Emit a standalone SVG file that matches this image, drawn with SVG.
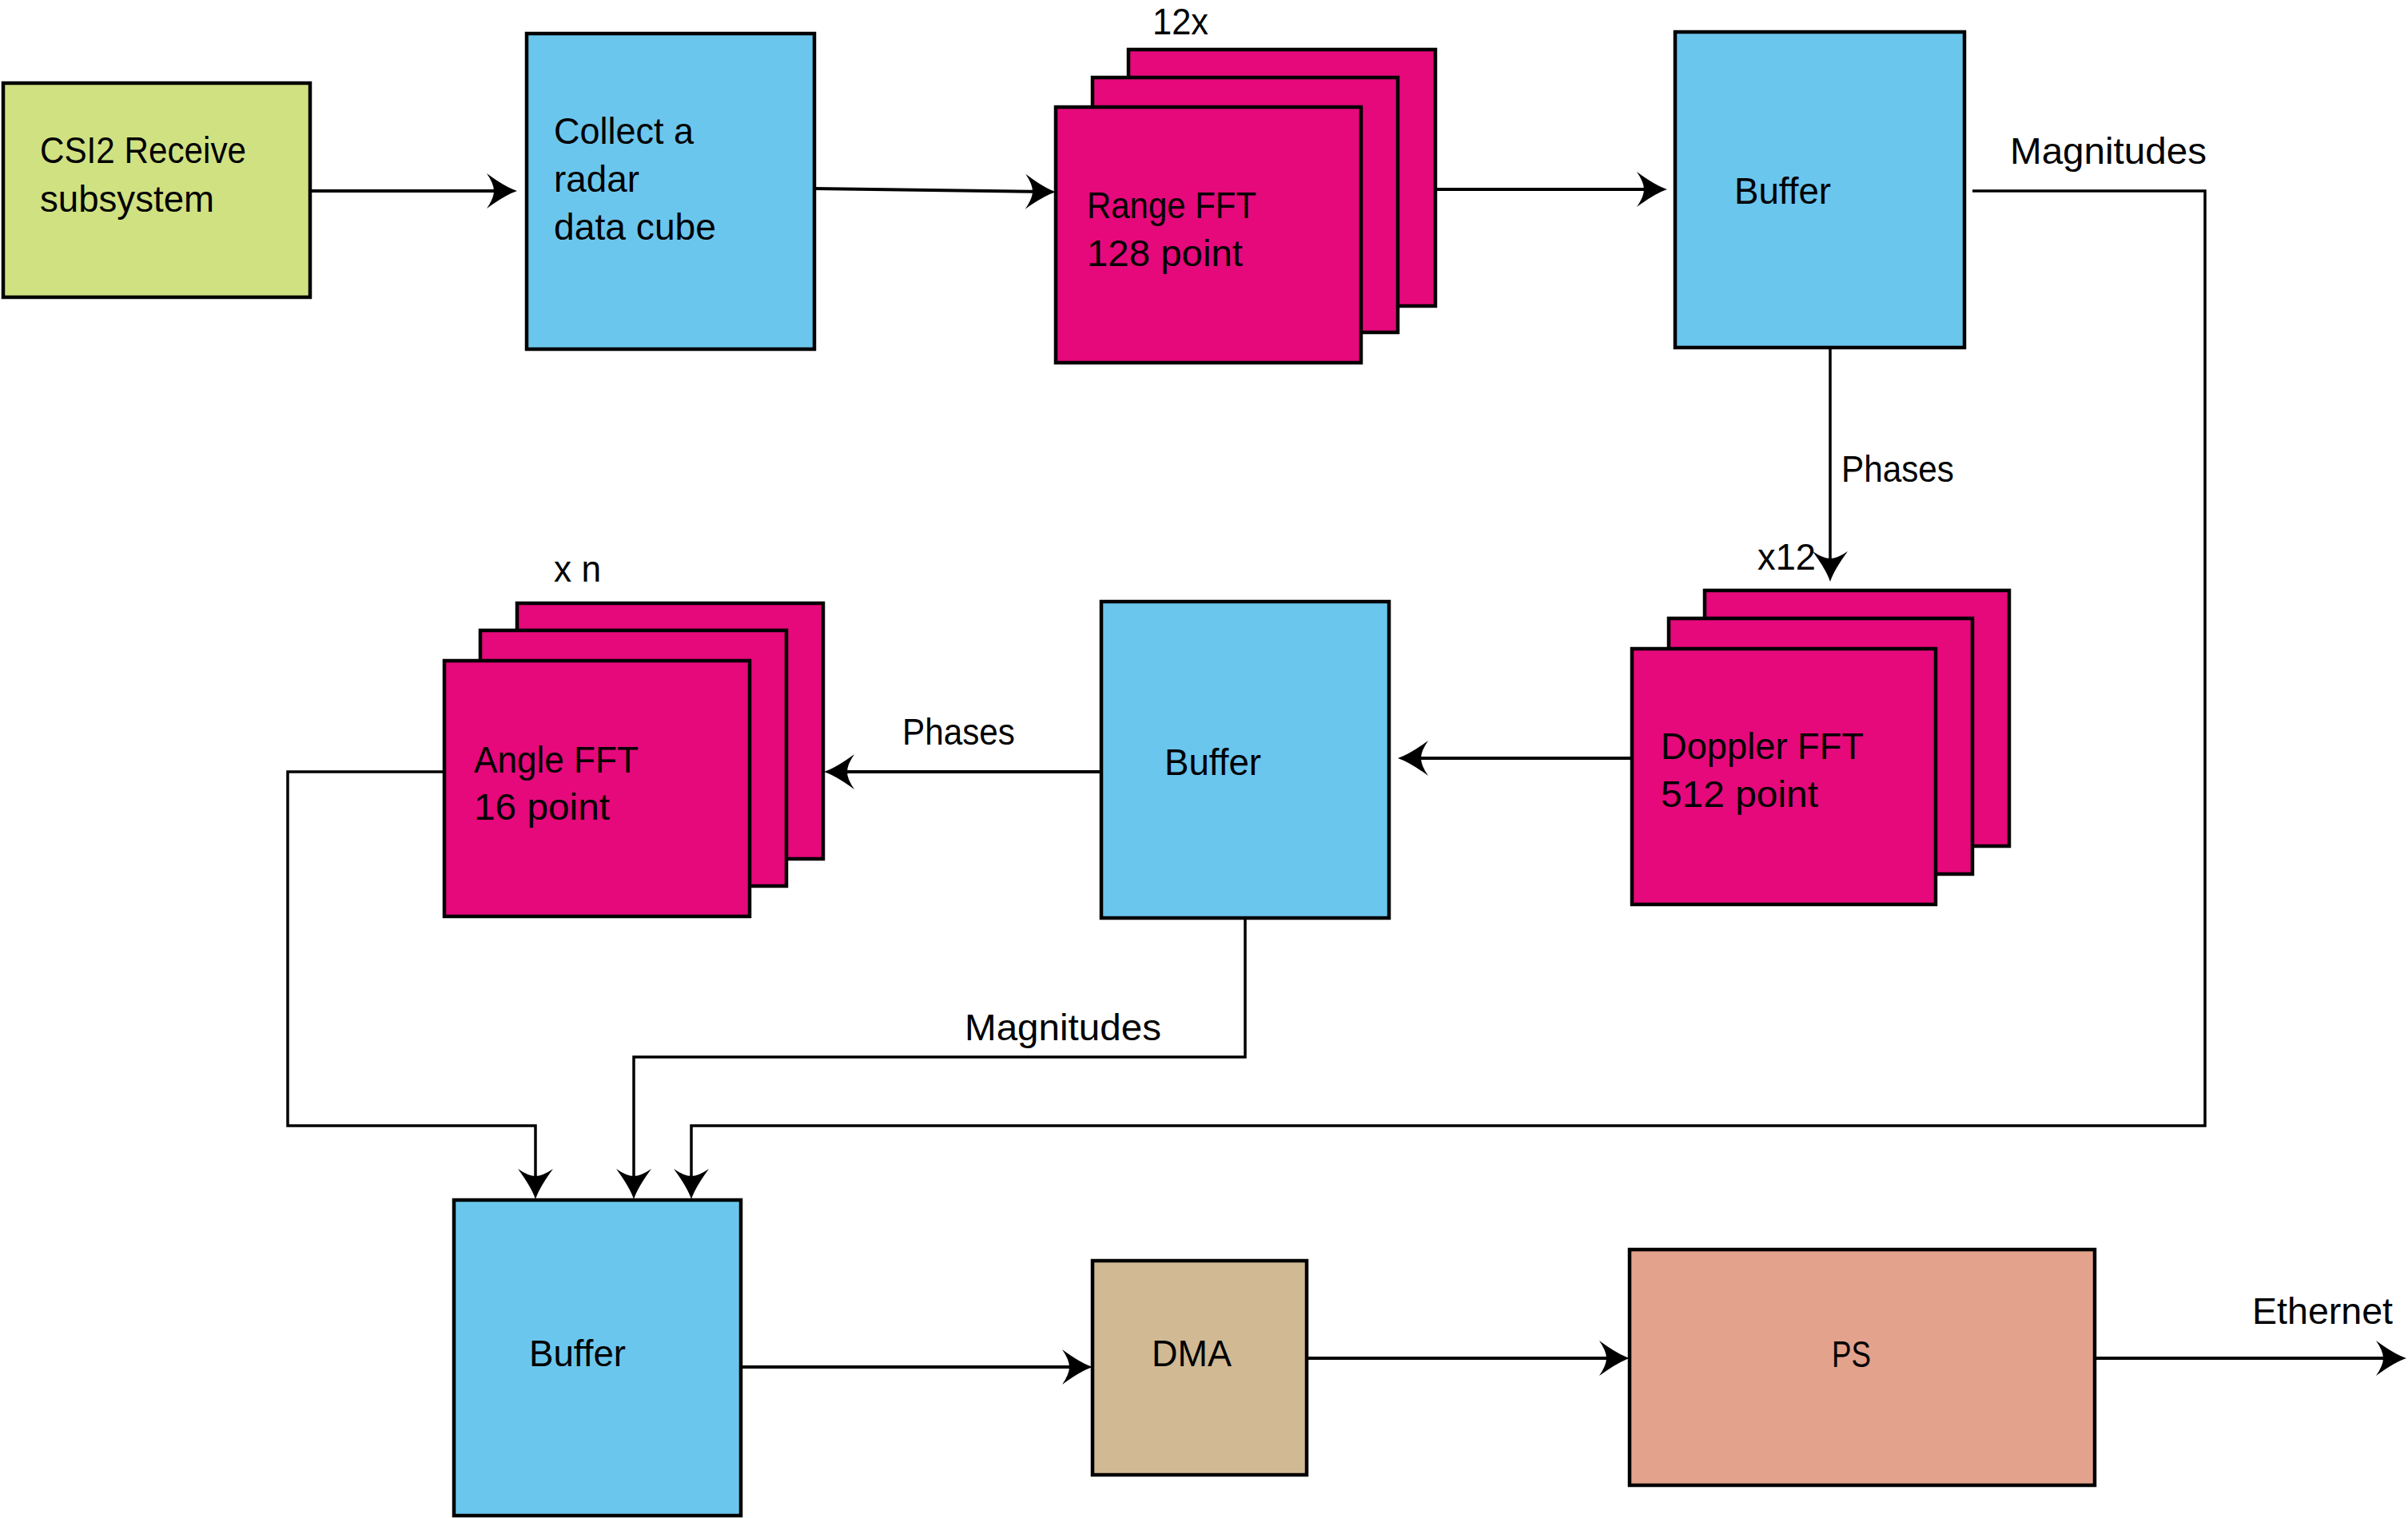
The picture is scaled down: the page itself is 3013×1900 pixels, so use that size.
<svg xmlns="http://www.w3.org/2000/svg" width="3013" height="1900" viewBox="0 0 3013 1900">
<style>
.box{stroke:#000;stroke-width:4.5}
.green{fill:#d0e182}
.blue{fill:#6bc6ed}
.pink{fill:#e5097b}
.tan{fill:#d1b994}
.salmon{fill:#e2a28c}
.t{font-family:"Liberation Sans",Arial,sans-serif;font-size:47px;fill:#000}
.c{fill:none;stroke:#000;stroke-width:4;stroke-linejoin:miter}
.c2{fill:none;stroke:#000;stroke-width:3.5;stroke-linejoin:miter}
</style>
<defs>
<marker id="arr" markerUnits="userSpaceOnUse" viewBox="-42 -24 44 48" markerWidth="44" markerHeight="48" refX="-12" refY="0" orient="auto">
<path d="M0,0 Q-15,-5 -38,-22 Q-29,-9 -29,0 Q-29,9 -38,22 Q-15,5 0,0 Z" fill="#000"/>
</marker>
</defs>
<rect width="3013" height="1900" fill="#fff"/>
<g id="connectors">
<path class="c" d="M388,239 L635,239" marker-end="url(#arr)"/>
<path class="c" d="M1019,236 L1309,240" marker-end="url(#arr)"/>
<path class="c" d="M1796,237 L2074,237" marker-end="url(#arr)"/>
<path class="c2" d="M2468,239 L2759,239 L2759,1409 L865,1409 L865,1489" marker-end="url(#arr)"/>
<path class="c2" d="M2290,435 L2290,716" marker-end="url(#arr)"/>
<path class="c" d="M2042,949 L1761,949" marker-end="url(#arr)"/>
<path class="c" d="M1378,966 L1043,966" marker-end="url(#arr)"/>
<path class="c2" d="M556,966 L360,966 L360,1409 L670,1409 L670,1489" marker-end="url(#arr)"/>
<path class="c2" d="M1558,1149 L1558,1323 L793,1323 L793,1489" marker-end="url(#arr)"/>
<path class="c" d="M927,1711 L1355,1711" marker-end="url(#arr)"/>
<path class="c" d="M1635,1700 L2027,1700" marker-end="url(#arr)"/>
<path class="c" d="M2621,1700 L2999,1700" marker-end="url(#arr)"/>
</g>
<g id="labels">
<text class="t" x="2515" y="205" textLength="246" lengthAdjust="spacingAndGlyphs">Magnitudes</text>
<text class="t" x="2304" y="603" textLength="141" lengthAdjust="spacingAndGlyphs">Phases</text>
<text class="t" x="1129" y="932" textLength="141" lengthAdjust="spacingAndGlyphs">Phases</text>
<text class="t" x="1207" y="1302" textLength="246" lengthAdjust="spacingAndGlyphs">Magnitudes</text>
<text class="t" x="2818" y="1657" textLength="176" lengthAdjust="spacingAndGlyphs">Ethernet</text>
</g>
<g id="csi2">
<rect class="box green" x="4" y="104" width="384" height="268"/>
<text class="t" x="50" y="204" textLength="258" lengthAdjust="spacingAndGlyphs">CSI2 Receive</text>
<text class="t" x="50" y="265" textLength="218" lengthAdjust="spacingAndGlyphs">subsystem</text>
</g>
<g id="collect">
<rect class="box blue" x="659" y="42" width="360" height="395"/>
<text class="t" x="693" y="180" textLength="175" lengthAdjust="spacingAndGlyphs">Collect a</text>
<text class="t" x="693" y="240" textLength="107" lengthAdjust="spacingAndGlyphs">radar</text>
<text class="t" x="693" y="300" textLength="203" lengthAdjust="spacingAndGlyphs">data cube</text>
</g>
<g id="range-fft">
<text class="t" x="1442" y="43" textLength="70" lengthAdjust="spacingAndGlyphs">12x</text>
<rect class="box pink" x="1412" y="62" width="384" height="321"/>
<rect class="box pink" x="1367" y="97" width="382" height="319"/>
<rect class="box pink" x="1321" y="134" width="382" height="320"/>
<text class="t" x="1360" y="273" textLength="212" lengthAdjust="spacingAndGlyphs">Range FFT</text>
<text class="t" x="1360" y="333" textLength="195" lengthAdjust="spacingAndGlyphs">128 point</text>
</g>
<g id="buffer1">
<rect class="box blue" x="2096" y="40" width="362" height="395"/>
<text class="t" x="2170" y="255" textLength="121" lengthAdjust="spacingAndGlyphs">Buffer</text>
</g>
<g id="doppler-fft">
<text class="t" x="2199" y="713" textLength="73" lengthAdjust="spacingAndGlyphs">x12</text>
<rect class="box pink" x="2133" y="739" width="381" height="320"/>
<rect class="box pink" x="2088" y="774" width="380" height="320"/>
<rect class="box pink" x="2042" y="812" width="380" height="320"/>
<text class="t" x="2078" y="950" textLength="254" lengthAdjust="spacingAndGlyphs">Doppler FFT</text>
<text class="t" x="2078" y="1010" textLength="197" lengthAdjust="spacingAndGlyphs">512 point</text>
</g>
<g id="buffer2">
<rect class="box blue" x="1378" y="753" width="360" height="396"/>
<text class="t" x="1457" y="970" textLength="121" lengthAdjust="spacingAndGlyphs">Buffer</text>
</g>
<g id="angle-fft">
<text class="t" x="693" y="728" textLength="59" lengthAdjust="spacingAndGlyphs">x n</text>
<rect class="box pink" x="647" y="755" width="383" height="320"/>
<rect class="box pink" x="601" y="789" width="383" height="320"/>
<rect class="box pink" x="556" y="827" width="382" height="320"/>
<text class="t" x="593" y="967" textLength="206" lengthAdjust="spacingAndGlyphs">Angle FFT</text>
<text class="t" x="593" y="1026" textLength="170" lengthAdjust="spacingAndGlyphs">16 point</text>
</g>
<g id="buffer3">
<rect class="box blue" x="568" y="1502" width="359" height="395"/>
<text class="t" x="662" y="1710" textLength="121" lengthAdjust="spacingAndGlyphs">Buffer</text>
</g>
<g id="dma">
<rect class="box tan" x="1367" y="1578" width="268" height="268"/>
<text class="t" x="1441" y="1710" textLength="100" lengthAdjust="spacingAndGlyphs">DMA</text>
</g>
<g id="ps">
<rect class="box salmon" x="2039" y="1564" width="582" height="295"/>
<text class="t" x="2292" y="1711" textLength="49" lengthAdjust="spacingAndGlyphs">PS</text>
</g>
</svg>
